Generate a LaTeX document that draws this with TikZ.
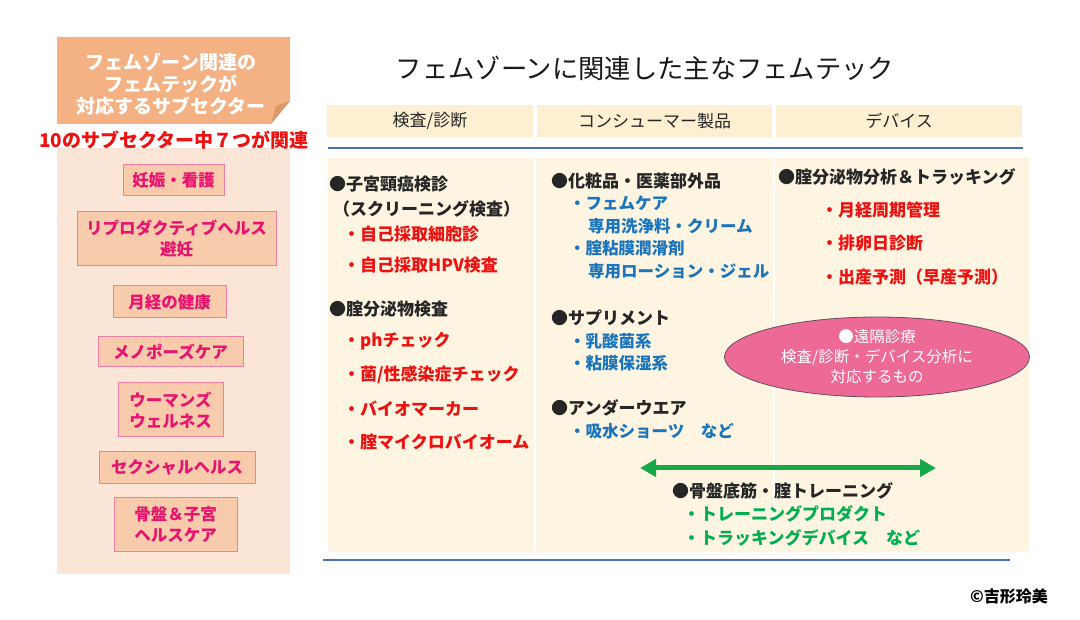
\documentclass[tikz,border=0pt]{standalone}
\usepackage{fontspec}
\setmainfont{Noto Sans CJK JP}
\usetikzlibrary{shapes.geometric,arrows.meta}
\definecolor{hdrorange}{HTML}{F4B183}
\definecolor{folddark}{HTML}{D89A68}
\definecolor{panelpeach}{HTML}{FBE5D6}
\definecolor{boxfill}{HTML}{F8CBAD}
\definecolor{boxborder}{HTML}{EC7FA6}
\definecolor{boxtext}{HTML}{E8126F}
\definecolor{redtext}{HTML}{EE1111}
\definecolor{bluetext}{HTML}{1B75BC}
\definecolor{greentext}{HTML}{00B050}
\definecolor{arrowgreen}{HTML}{16A94A}
\definecolor{hdrfill}{HTML}{FCEFD2}
\definecolor{bodyfill}{HTML}{FDF5E2}
\definecolor{rule}{HTML}{4A72B0}
\definecolor{ellfill}{HTML}{EE6A96}
\definecolor{ellborder}{HTML}{6B4A5E}
\tikzset{
  subbox/.style={draw=boxborder, line width=1pt, fill=boxfill, text=boxtext,
    font=\fontsize{16.5}{21}\selectfont\bfseries, align=center, inner sep=0pt},
  colhead/.style={fill=hdrfill, font=\fontsize{17}{20}\selectfont, text=black!85, inner sep=0pt},
  itemblack/.style={anchor=west, inner sep=0pt, font=\fontsize{17}{20}\selectfont\bfseries, text=black!85},
  itemred/.style={anchor=west, inner sep=0pt, font=\fontsize{17}{20}\selectfont\bfseries, text=redtext},
  itemblue/.style={anchor=west, inner sep=0pt, font=\fontsize{16.5}{20}\selectfont\bfseries, text=bluetext},
  itemgreen/.style={anchor=west, inner sep=0pt, font=\fontsize{17}{20}\selectfont\bfseries, text=greentext},
}
\begin{document}
\begin{tikzpicture}[x=1pt,y=-1pt]
\fill[white] (0,0) rectangle (1080,620);
\useasboundingbox (0,0) rectangle (1080,620);

% ---------- left panel ----------
\fill[panelpeach] (57,148) rectangle (290,574);
\fill[hdrorange] (57,37) -- (290,37) -- (290,101) -- (271,124) -- (57,124) -- cycle;
\fill[folddark] (290,101) -- (271,124) -- (276,106) -- cycle;
\node[align=center, text=white, font=\fontsize{19}{22}\selectfont\bfseries, inner sep=0pt]
  (lefthead) at (171,84) {フェムゾーン関連の\\フェムテックが\\対応するサブセクター};
\node[text=redtext, font=\fontsize{19}{22}\selectfont\bfseries, inner sep=0pt]
  (redline) at (174,140) {10のサブセクター中７つが関連};

\node[subbox, minimum width=101pt, minimum height=31pt] (s1) at (173.5,180.5) {妊娠・看護};
\node[subbox, minimum width=199pt, minimum height=54pt] (s2) at (176.5,239) {リプロダクティブヘルス\\避妊};
\node[subbox, minimum width=113pt, minimum height=32pt] (s3) at (169.5,302) {月経の健康};
\node[subbox, minimum width=145pt, minimum height=30pt] (s4) at (170.5,352) {メノポーズケア};
\node[subbox, minimum width=105pt, minimum height=54pt] (s5) at (170.5,410) {ウーマンズ\\ウェルネス};
\node[subbox, minimum width=156pt, minimum height=31pt] (s6) at (177,467.5) {セクシャルヘルス};
\node[subbox, minimum width=123pt, minimum height=54pt] (s7) at (175.5,524) {骨盤＆子宮\\ヘルスケア};

% ---------- title ----------
\node[font=\fontsize{26.3}{30}\selectfont, text=black!90, inner sep=0pt] (title) at (645,68) {フェムゾーンに関連した主なフェムテック};

% ---------- right table ----------
\node[colhead, minimum width=206pt, minimum height=32pt] (h1) at (430,121) {検査/診断};
\node[colhead, minimum width=235pt, minimum height=32pt] (h2) at (654.5,121) {コンシューマー製品};
\node[colhead, minimum width=246pt, minimum height=32pt] (h3) at (899,121) {デバイス};
\coordinate (rl1) at (328,148);
\coordinate (rl2) at (1023,148);
\draw[rule, line width=1.3pt] (rl1) -- (rl2);

\fill[bodyfill] (328,158) rectangle (1029,552);
\draw[white, line width=1.5pt] (535,158) -- (535,552);
\draw[white, line width=1.5pt] (774,158) -- (774,552);

\coordinate (bl1) at (323,560);
\coordinate (bl2) at (1010,560);
\draw[rule, line width=1.3pt] (bl1) -- (bl2);

% column 1
\node[itemblack] (c1a) at (329,184) {●子宮頸癌検診};
\node[itemblack] (c1b) at (333,209) {（スクリーニング検査）};
\node[itemred] (c1c) at (343,234) {・自己採取細胞診};
\node[itemred] (c1d) at (343,265) {・自己採取HPV検査};
\node[itemblack] (c1e) at (329,309) {●腟分泌物検査};
\node[itemred] (c1f) at (343,341) {・phチェック};
\node[itemred] (c1g) at (343,375) {・菌/性感染症チェック};
\node[itemred] (c1h) at (343,409) {・バイオマーカー};
\node[itemred] (c1i) at (343,442) {・腟マイクロバイオーム};

% column 2
\node[itemblack] (c2a) at (551,181) {●化粧品・医薬部外品};
\node[itemblue] (c2b) at (569,203) {・フェムケア};
\node[itemblue] (c2c) at (588,226) {専用洗浄料・クリーム};
\node[itemblue] (c2d) at (569,248) {・腟粘膜潤滑剤};
\node[itemblue] (c2e) at (588,271) {専用ローション・ジェル};
\node[itemblack] (c2f) at (551,318) {●サプリメント};
\node[itemblue] (c2g) at (569,341) {・乳酸菌系};
\node[itemblue] (c2h) at (569,363) {・粘膜保湿系};
\node[itemblack] (c2i) at (551,408) {●アンダーウエア};
\node[itemblue] (c2j) at (569,431) {・吸水ショーツ　など};

% column 3
\node[itemblack] (c3a) at (778,177) {●腟分泌物分析＆トラッキング};
\node[itemred] (c3b) at (821,210) {・月経周期管理};
\node[itemred] (c3c) at (821,243) {・排卵日診断};
\node[itemred] (c3d) at (821,277) {・出産予測（早産予測）};

% remote ellipse
\node[ellipse, draw=ellborder, line width=0.8pt, fill=ellfill, minimum width=305pt, minimum height=80pt,
  inner sep=0pt] (remote) at (877,357) {};
\node[align=center, text=white, font=\fontsize{15.5}{20}\selectfont, inner sep=0pt] (remotetxt) at (remote.center)
  {●遠隔診療\\検査/診断・デバイス分析に\\対応するもの};

% training arrow
\coordinate (aL) at (640,468);
\coordinate (aR) at (936,468);
\draw[arrowgreen, line width=5pt, {Triangle[length=16pt,width=17pt]}-{Triangle[length=16pt,width=17pt]}] (aL) -- (aR);
\node[itemblack] (t1) at (672,491) {●骨盤底筋・腟トレーニング};
\node[itemgreen] (t2) at (683,514) {・トレーニングプロダクト};
\node[itemgreen] (t3) at (683,538) {・トラッキングデバイス　など};

% copyright
\node[font=\fontsize{16}{18}\selectfont\bfseries, text=black, inner sep=0pt, anchor=east] (copy) at (1048,596) {©吉形玲美};
\end{tikzpicture}
\end{document}
